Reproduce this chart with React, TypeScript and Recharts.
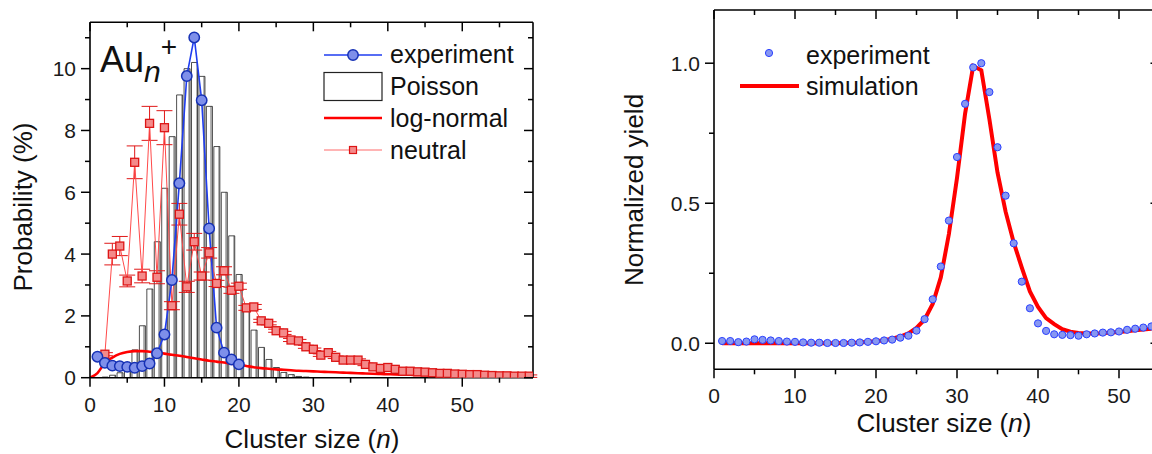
import React from 'react';
import { ComposedChart, Bar, Line, Scatter, XAxis, YAxis, ErrorBar } from 'recharts';

const FONT = '"Liberation Sans", Arial, Helvetica, sans-serif';

// ---- left panel: Au_n+ size distribution (%) ----
const expSizes = [1, 2, 3, 4, 5, 6, 7, 8, 9, 10, 11, 12, 13, 14, 15, 16, 17, 18, 19, 20];
const expProb = [0.68, 0.48, 0.39, 0.375, 0.35, 0.32, 0.375, 0.46, 0.79, 1.4, 3.16, 6.29, 9.76, 11.01, 8.98, 4.83, 1.62, 0.81, 0.59, 0.43];

const poissonSizes = [2, 3, 4, 5, 6, 7, 8, 9, 10, 11, 12, 13, 14, 15, 16, 17, 18, 19, 20, 21, 22, 23, 24, 25, 26, 27, 28, 29];
const poissonProb = [0.02, 0.08, 0.16, 0.41, 0.9, 1.68, 2.87, 4.4, 6.13, 7.8, 9.15, 10.0, 10.2, 9.75, 8.78, 7.48, 6.0, 4.59, 3.34, 2.3, 1.54, 0.98, 0.59, 0.33, 0.17, 0.1, 0.04, 0.02];

const logNormalSizes = [0, 1, 2, 3, 4, 5, 6, 7, 8, 9, 10, 11, 12, 13, 14, 15, 16, 17, 18, 19, 20, 21, 22, 23, 24, 25, 26, 27, 28, 29, 30, 31, 32, 33, 34, 35, 36, 37, 38, 39, 40, 41, 42, 43, 44, 45, 46, 47, 48, 49, 50, 51, 52, 53, 54, 55, 56, 57, 58, 59];
const logNormalProb = [0, 0.15, 0.48, 0.65, 0.77, 0.83, 0.86, 0.86, 0.84, 0.81, 0.78, 0.74, 0.71, 0.67, 0.63, 0.59, 0.55, 0.52, 0.49, 0.45, 0.42, 0.38, 0.34, 0.31, 0.29, 0.27, 0.255, 0.24, 0.225, 0.215, 0.205, 0.195, 0.185, 0.175, 0.165, 0.155, 0.145, 0.135, 0.127, 0.12, 0.113, 0.106, 0.1, 0.095, 0.09, 0.085, 0.08, 0.075, 0.07, 0.066, 0.062, 0.058, 0.055, 0.052, 0.049, 0.046, 0.044, 0.042, 0.04, 0.038];

const neutralSizes = [2, 3, 4, 5, 6, 7, 8, 9, 10, 11, 12, 13, 14, 15, 16, 17, 18, 19, 20, 21, 22, 23, 24, 25, 26, 27, 28, 29, 30, 31, 32, 33, 34, 35, 36, 37, 38, 39, 40, 41, 42, 43, 44, 45, 46, 47, 48, 49, 50, 51, 52, 53, 54, 55, 56, 57, 58, 59];
const neutralProb = [0.76, 4.0, 4.26, 3.13, 6.97, 3.29, 8.23, 3.25, 8.09, 2.33, 5.29, 2.94, 4.4, 3.29, 4.04, 3.05, 3.46, 2.83, 2.96, 2.26, 2.29, 1.84, 1.76, 1.52, 1.45, 1.22, 1.19, 1.0, 0.92, 0.73, 0.81, 0.66, 0.57, 0.57, 0.57, 0.43, 0.35, 0.3, 0.33, 0.27, 0.21, 0.21, 0.19, 0.18, 0.16, 0.14, 0.14, 0.12, 0.11, 0.1, 0.1, 0.08, 0.07, 0.06, 0.06, 0.05, 0.05, 0.05];
const neutralErr = [0.05, 0.35, 0.31, 0.19, 0.53, 0.22, 0.55, 0.21, 0.55, 0.13, 0.35, 0.18, 0.27, 0.13, 0.17, 0.1, 0.13, 0.1, 0.1, 0.08, 0.08, 0.05, 0.05, 0.05, 0.05, 0.05, 0.05, 0.05, 0.04, 0.04, 0.04, 0.04, 0.04, 0.04, 0.04, 0.04, 0.04, 0.04, 0.04, 0.04, 0.04, 0.04, 0.04, 0.04, 0.04, 0.04, 0.04, 0.04, 0.04, 0.04, 0.04, 0.04, 0.04, 0.04, 0.04, 0.04, 0.04, 0.04];

const leftXTicks = [0, 5, 10, 15, 20, 25, 30, 35, 40, 45, 50, 55];
const leftYTicks = [0, 1, 2, 3, 4, 5, 6, 7, 8, 9, 10, 11];

// ---- right panel: normalized yield ----
const yieldSizes = [1, 2, 3, 4, 5, 6, 7, 8, 9, 10, 11, 12, 13, 14, 15, 16, 17, 18, 19, 20, 21, 22, 23, 24, 25, 26, 27, 28, 29, 30, 31, 32, 33, 34, 35, 36, 37, 38, 39, 40, 41, 42, 43, 44, 45, 46, 47, 48, 49, 50, 51, 52, 53, 54];
const yieldExp = [0.008, 0.008, 0.004, 0.006, 0.014, 0.012, 0.01, 0.008, 0.006, 0.005, 0.003, 0.002, 0.002, 0.001, 0.001, 0.001, 0.002, 0.003, 0.005, 0.007, 0.01, 0.013, 0.02, 0.027, 0.045, 0.086, 0.157, 0.274, 0.438, 0.665, 0.855, 0.985, 1.0, 0.897, 0.7, 0.527, 0.357, 0.22, 0.125, 0.071, 0.044, 0.032, 0.03, 0.029, 0.027, 0.032, 0.035, 0.038, 0.039, 0.042, 0.048, 0.052, 0.056, 0.06];
const yieldSim = [0, 0, 0, 0, 0, 0, 0, 0, 0, 0, 0, 0, 0, 0, 0, 0.001, 0.002, 0.003, 0.005, 0.007, 0.011, 0.016, 0.024, 0.035, 0.055, 0.085, 0.14, 0.235, 0.39, 0.59, 0.82, 0.99, 0.975, 0.8, 0.61, 0.47, 0.36, 0.27, 0.185, 0.13, 0.09, 0.068, 0.05, 0.041, 0.037, 0.035, 0.035, 0.036, 0.038, 0.04, 0.043, 0.046, 0.049, 0.052];

const rightXTicks = [0, 5, 10, 15, 20, 25, 30, 35, 40, 45, 50, 55];
const rightYTicks = [0, 0.25, 0.5, 0.75, 1.0];
const rightYLabels: Record<string, string> = { '0': '0.0', '0.5': '0.5', '1': '1.0' };

// tables for recharts
const leftTable = logNormalSizes.map((n, i) => {
  const row: any = { n, logNormal: logNormalProb[i] };
  const e = expSizes.indexOf(n);
  if (e >= 0) row.exp = expProb[e];
  const p = poissonSizes.indexOf(n);
  if (p >= 0) row.poisson = poissonProb[p];
  const q = neutralSizes.indexOf(n);
  if (q >= 0) {
    row.neutral = neutralProb[q];
    row.neutralErr = neutralErr[q];
  }
  return row;
});

const rightTable = yieldSizes.map((n, i) => ({ n, exp: yieldExp[i], sim: yieldSim[i] }));

const AXIS = { stroke: '#000', strokeWidth: 1.6 };
const TXT = '#1a1a1a';

const mkBottomTick = (isMajor: (v: number) => boolean) => (props: any) => {
  const { x, y, payload } = props;
  const major = isMajor(payload.value);
  return (
    <g>
      <line x1={x} x2={x} y1={y} y2={y + (major ? 9 : 5)} stroke="#000" strokeWidth={1.5} />
      {major && (
        <text x={x} y={y + 34} textAnchor="middle" fontSize={21} fontFamily={FONT} fill={TXT}>
          {payload.value}
        </text>
      )}
    </g>
  );
};

const mkTopTick = (isMajor: (v: number) => boolean) => (props: any) => {
  const { x, y, payload } = props;
  const major = isMajor(payload.value);
  return <line x1={x} x2={x} y1={y} y2={y + (major ? 9 : 5)} stroke="#000" strokeWidth={1.5} />;
};

const mkLeftTick = (isMajor: (v: number) => boolean, fmt: (v: number) => string) => (props: any) => {
  const { x, y, payload } = props;
  const major = isMajor(payload.value);
  return (
    <g>
      <line x1={x} x2={x - (major ? 9 : 5)} y1={y} y2={y} stroke="#000" strokeWidth={1.5} />
      {major && (
        <text x={x - 14} y={y + 7.5} textAnchor="end" fontSize={21} fontFamily={FONT} fill={TXT}>
          {fmt(payload.value)}
        </text>
      )}
    </g>
  );
};

const mkRightTick = (isMajor: (v: number) => boolean) => (props: any) => {
  const { x, y, payload } = props;
  const major = isMajor(payload.value);
  return <line x1={x} x2={x - (major ? 9 : 5)} y1={y} y2={y} stroke="#000" strokeWidth={1.5} />;
};

const every10 = (v: number) => v % 10 === 0;
const even = (v: number) => v % 2 === 0;
const halfStep = (v: number) => Math.abs(v * 2 - Math.round(v * 2)) < 1e-6;

const SquareDot = (props: any) => {
  const { cx, cy, index } = props;
  if (cx == null || cy == null || isNaN(cy)) return <g key={`sq-${index}`} />;
  return (
    <rect key={`sq-${index}`} x={cx - 4} y={cy - 4} width={8} height={8} fill="#f48a8a" stroke="#dd1515" strokeWidth={1.3} />
  );
};

const CircleDot = (props: any) => {
  const { cx, cy, index } = props;
  if (cx == null || cy == null || isNaN(cy)) return <g key={`ci-${index}`} />;
  return <circle key={`ci-${index}`} cx={cx} cy={cy} r={5.2} fill="#7e8fea" stroke="#1631b5" strokeWidth={1.5} />;
};

const SmallDot = (props: any) => (
  <circle cx={props.cx} cy={props.cy} r={3.6} fill="#8797f2" stroke="#2a40ff" strokeWidth={1} />
);

function LeftPanel() {
  return (
    <ComposedChart
      width={580}
      height={454}
      data={leftTable}
      margin={{ top: 21.3, right: 46, bottom: 75.3, left: 89 }}
    >
      <defs>
        <linearGradient id="poissonFill" x1="0" y1="0" x2="1" y2="0">
          <stop offset="0%" stopColor="#ffffff" />
          <stop offset="68%" stopColor="#ffffff" />
          <stop offset="68%" stopColor="#b4b4b4" />
          <stop offset="100%" stopColor="#b4b4b4" />
        </linearGradient>
      </defs>
      <XAxis
        dataKey="n"
        type="number"
        domain={[0, 59.5]}
        allowDataOverflow
        ticks={leftXTicks}
        height={1}
        tickSize={0}
        tickMargin={0}
        tickLine={false}
        axisLine={AXIS}
        tick={mkBottomTick(every10)}
        interval={0}
      />
      <XAxis
        xAxisId="top"
        orientation="top"
        dataKey="n"
        type="number"
        domain={[0, 59.5]}
        allowDataOverflow
        ticks={leftXTicks}
        height={1}
        tickSize={0}
        tickMargin={0}
        tickLine={false}
        axisLine={AXIS}
        tick={mkTopTick(every10)}
        interval={0}
      />
      <YAxis
        type="number"
        domain={[0, 11.5]}
        allowDataOverflow
        ticks={leftYTicks}
        width={1}
        tickSize={0}
        tickMargin={0}
        tickLine={false}
        axisLine={AXIS}
        tick={mkLeftTick(even, (v) => String(v))}
        interval={0}
      />
      <YAxis
        yAxisId="right"
        orientation="right"
        type="number"
        domain={[0, 11.5]}
        allowDataOverflow
        ticks={leftYTicks}
        width={1}
        tickSize={0}
        tickMargin={0}
        tickLine={false}
        axisLine={AXIS}
        tick={mkRightTick(even)}
        interval={0}
      />
      <Bar
        dataKey="poisson"
        barSize={6}
        fill="url(#poissonFill)"
        stroke="#222"
        strokeWidth={0.8}
        isAnimationActive={false}
      />
      <Line
        dataKey="neutral"
        type="linear"
        stroke="#ff4a4a"
        strokeWidth={1}
        dot={SquareDot}
        activeDot={false}
        isAnimationActive={false}
      >
        <ErrorBar dataKey="neutralErr" width={8} stroke="#e01818" strokeWidth={1} direction="y" />
      </Line>
      <Line
        dataKey="logNormal"
        type="monotone"
        stroke="#ff0000"
        strokeWidth={2.6}
        dot={false}
        activeDot={false}
        isAnimationActive={false}
      />
      <Line
        dataKey="exp"
        type="linear"
        stroke="#1f3df0"
        strokeWidth={1.6}
        dot={CircleDot}
        activeDot={false}
        isAnimationActive={false}
      />
    </ComposedChart>
  );
}

function RightPanel() {
  return (
    <ComposedChart
      width={600}
      height={454}
      data={rightTable}
      margin={{ top: 9, right: 39.5, bottom: 83.7, left: 113 }}
    >
      <XAxis
        dataKey="n"
        type="number"
        domain={[0, 55]}
        allowDataOverflow
        ticks={rightXTicks}
        height={1}
        tickSize={0}
        tickMargin={0}
        tickLine={false}
        axisLine={AXIS}
        tick={mkBottomTick(every10)}
        interval={0}
      />
      <XAxis
        xAxisId="top"
        orientation="top"
        dataKey="n"
        type="number"
        domain={[0, 55]}
        allowDataOverflow
        ticks={rightXTicks}
        height={1}
        tickSize={0}
        tickMargin={0}
        tickLine={false}
        axisLine={AXIS}
        tick={mkTopTick(every10)}
        interval={0}
      />
      <YAxis
        type="number"
        domain={[-0.093, 1.19]}
        allowDataOverflow
        ticks={rightYTicks}
        width={1}
        tickSize={0}
        tickMargin={0}
        tickLine={false}
        axisLine={AXIS}
        tick={mkLeftTick(halfStep, (v) => rightYLabels[String(v)] ?? '')}
        interval={0}
      />
      <YAxis
        yAxisId="right"
        orientation="right"
        type="number"
        domain={[-0.093, 1.19]}
        allowDataOverflow
        ticks={rightYTicks}
        width={1}
        tickSize={0}
        tickMargin={0}
        tickLine={false}
        axisLine={AXIS}
        tick={mkRightTick(halfStep)}
        interval={0}
      />
      <Scatter dataKey="exp" shape={SmallDot} isAnimationActive={false} />
      <Line
        dataKey="sim"
        type="linear"
        stroke="#ff0000"
        strokeWidth={4}
        dot={false}
        activeDot={false}
        isAnimationActive={false}
      />
    </ComposedChart>
  );
}

function Overlay() {
  const t = { fontFamily: FONT, fill: '#111' };
  return (
    <svg
      width={1152}
      height={454}
      style={{ position: 'absolute', left: 0, top: 0, pointerEvents: 'none' }}
    >
      {/* left panel label */}
      <text x={100} y={72} fontSize={36} {...t}>
        Au
        <tspan fontStyle="italic" fontSize={30} dy={10}>n</tspan>
        <tspan fontSize={28} dy={-26}>+</tspan>
      </text>

      {/* left legend */}
      <line x1={324} x2={382} y1={55} y2={55} stroke="#1f3df0" strokeWidth={1.6} />
      <circle cx={353} cy={55} r={5.2} fill="#7e8fea" stroke="#1631b5" strokeWidth={1.5} />
      <text x={390} y={63} fontSize={25} {...t}>experiment</text>
      <rect x={324} y={72.5} width={58} height={28} fill="#fff" stroke="#222" strokeWidth={1.2} />
      <text x={390} y={95} fontSize={25} {...t}>Poisson</text>
      <line x1={324} x2={382} y1={118} y2={118} stroke="#ff0000" strokeWidth={2.6} />
      <text x={390} y={127} fontSize={25} {...t}>log-normal</text>
      <line x1={324} x2={382} y1={150} y2={150} stroke="#ff6a6a" strokeWidth={1} />
      <rect x={349.5} y={146.5} width={7} height={7} fill="#f48a8a" stroke="#dd1515" strokeWidth={1.2} />
      <text x={390} y={158.5} fontSize={25} {...t}>neutral</text>

      {/* left axis titles */}
      <text x={312} y={448} fontSize={26} textAnchor="middle" {...t}>
        Cluster size (<tspan fontStyle="italic">n</tspan>)
      </text>
      <text x={32} y={207} fontSize={26} textAnchor="middle" transform="rotate(-90 32 207)" {...t}>
        Probability (%)
      </text>

      {/* right legend */}
      <circle cx={769} cy={53} r={3.6} fill="#8797f2" stroke="#2a40ff" strokeWidth={1} />
      <text x={806} y={63.5} fontSize={25} {...t}>experiment</text>
      <line x1={740} x2={799} y1={86} y2={86} stroke="#ff0000" strokeWidth={4} />
      <text x={806} y={94.5} fontSize={25} {...t}>simulation</text>

      {/* right axis titles */}
      <text x={944} y={432} fontSize={26} textAnchor="middle" {...t}>
        Cluster size (<tspan fontStyle="italic">n</tspan>)
      </text>
      <text x={643} y={190} fontSize={26} textAnchor="middle" transform="rotate(-90 643 190)" {...t}>
        Normalized yield
      </text>
    </svg>
  );
}

export default function App() {
  return (
    <div
      style={{
        position: 'absolute',
        left: 0,
        top: 0,
        width: 1152,
        height: 454,
        overflow: 'hidden',
        background: '#fff',
        fontFamily: FONT,
      }}
    >
      <div style={{ position: 'absolute', left: 0, top: 0 }}>
        <LeftPanel />
      </div>
      <div style={{ position: 'absolute', left: 600, top: 0 }}>
        <RightPanel />
      </div>
      <Overlay />
    </div>
  );
}
